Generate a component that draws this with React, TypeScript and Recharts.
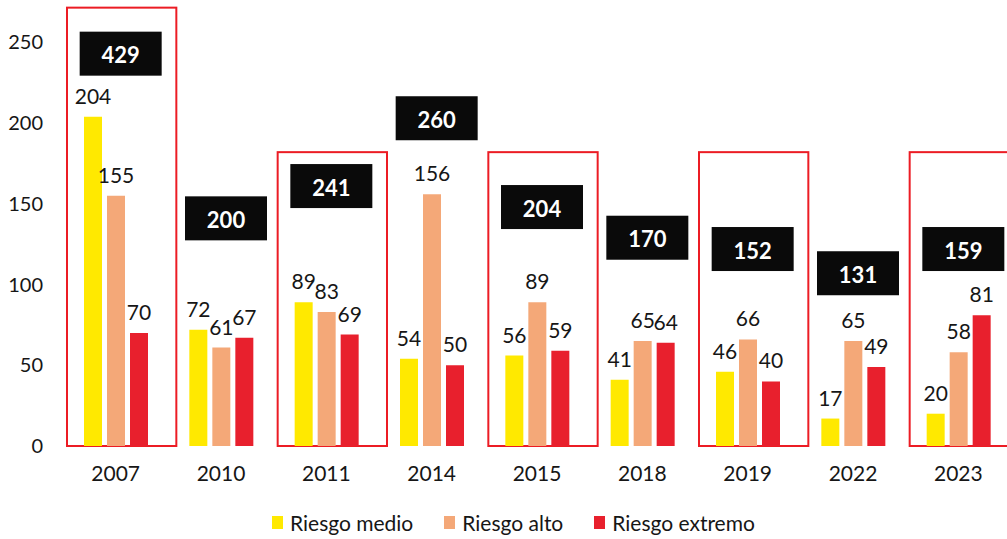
import { BarChart, Bar, XAxis, YAxis, LabelList, ReferenceArea, ReferenceDot } from "recharts"

const years = ["2007", "2010", "2011", "2014", "2015", "2018", "2019", "2022", "2023"]
const riesgoMedio = [204, 72, 89, 54, 56, 41, 46, 17, 20]
const riesgoAlto = [155, 61, 83, 156, 89, 65, 66, 65, 58]
const riesgoExtremo = [70, 67, 69, 50, 59, 64, 40, 49, 81]
// height (in axis units) where each black total box sits
const totalBoxAt = [243, 141, 161, 203, 148, 129, 122, 107, 122]
// years framed in red, and the top of each frame in axis units
const framedYears = ["2007", "2011", "2015", "2019", "2023"]
const frameTop = [271.5, 182, 182, 182, 182]
const yTicks = [0, 50, 100, 150, 200, 250]

const series = [
  { key: "medio", name: "Riesgo medio", color: "#ffe900" },
  { key: "alto", name: "Riesgo alto", color: "#f4a878" },
  { key: "extremo", name: "Riesgo extremo", color: "#e8202d" },
]

const TEXT = "#161616"

const data = years.map((year, i) => ({
  year,
  medio: riesgoMedio[i],
  alto: riesgoAlto[i],
  extremo: riesgoExtremo[i],
  total: riesgoMedio[i] + riesgoAlto[i] + riesgoExtremo[i],
}))

function Frame(p: any) {
  return (
    <rect
      x={p.x + 4}
      y={p.y}
      width={p.width + 4}
      height={p.height}
      fill="none"
      stroke="#ec1c24"
      strokeWidth={2}
    />
  )
}

function TotalBox({ cx, cy, value }: { cx: number; cy: number; value: number }) {
  const w = 82
  const h = 44
  const x = cx + 5
  return (
    <g>
      <rect x={x - w / 2} y={cy - h / 2} width={w} height={h} fill="#0a0a0a" />
      <text
        x={x}
        y={cy + 1}
        textAnchor="middle"
        dominantBaseline="central"
        fill="#ffffff"
        fontSize={22}
        fontWeight={700}
        fontFamily="Lato"
      >
        {value}
      </text>
    </g>
  )
}

export default function App() {
  return (
    <div
      style={{
        position: "absolute",
        left: 0,
        top: 0,
        width: 1007,
        height: 539,
        overflow: "hidden",
        background: "#fff",
        fontFamily: "Lato",
      }}
    >
      <BarChart
        width={1020}
        height={539}
        data={data}
        margin={{ top: 2, right: 9, bottom: 53, left: 3 }}
        barSize={18}
        barGap={5}
        style={{ fontFamily: "Lato" }}
      >
        <XAxis
          dataKey="year"
          axisLine={false}
          tickLine={false}
          tickSize={0}
          tickMargin={20}
          height={40}
          interval={0}
          tick={{ fontSize: 21, fill: TEXT }}
        />
        <YAxis
          domain={[0, 275]}
          ticks={yTicks}
          axisLine={false}
          tickLine={false}
          tickSize={0}
          tickMargin={20}
          width={60}
          tick={{ fontSize: 20, fill: TEXT }}
        />
        {framedYears.map((y, i) => (
          <ReferenceArea
            key={y}
            x1={y}
            x2={y}
            y1={0}
            y2={frameTop[i]}
            ifOverflow="visible"
            shape={Frame}
          />
        ))}
        {series.map((s) => (
          <Bar key={s.key} dataKey={s.key} name={s.name} fill={s.color} isAnimationActive={false}>
            <LabelList
              dataKey={s.key}
              position="top"
              offset={13}
              fill={TEXT}
              fontSize={21}
              fontFamily="Lato"
            />
          </Bar>
        ))}
        {data.map((d, i) => (
          <ReferenceDot
            key={d.year}
            x={d.year}
            y={totalBoxAt[i]}
            r={1}
            ifOverflow="visible"
            shape={(p: any) => <TotalBox cx={p.cx} cy={p.cy} value={d.total} />}
          />
        ))}
      </BarChart>
      <div
        style={{
          position: "absolute",
          top: 510,
          left: 272,
          display: "flex",
          alignItems: "center",
          fontSize: 21,
          color: TEXT,
          whiteSpace: "nowrap",
        }}
      >
        {series.map((s) => (
          <div key={s.key} style={{ display: "flex", alignItems: "center", marginRight: 31 }}>
            <span style={{ display: "inline-block", width: 11, height: 13, background: s.color, marginRight: 7 }} />
            <span>{s.name}</span>
          </div>
        ))}
      </div>
    </div>
  )
}
